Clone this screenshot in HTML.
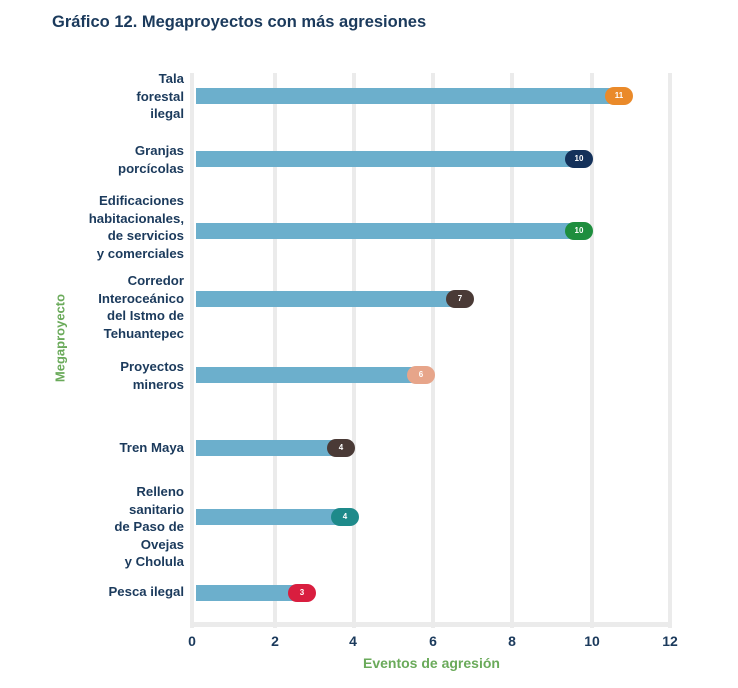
<!DOCTYPE html>
<html><head><meta charset="utf-8"><style>
body{margin:0;background:#fff;width:738px;height:688px;overflow:hidden;font-family:"Liberation Sans",sans-serif;}
.t{position:absolute;left:52px;top:13px;font-size:16.5px;font-weight:bold;color:#1b3a5c;}
.g{position:absolute;top:73px;width:4px;height:555px;background:#ebebeb;}
.bar{position:absolute;left:196px;height:16px;background:#6cafcc;}
.b{position:absolute;height:18px;width:28px;border-radius:9px;color:#fff;font-size:8px;font-weight:bold;text-align:center;line-height:18px;}
.l{position:absolute;right:554px;text-align:right;font-size:13.2px;font-weight:bold;color:#1b3a5c;line-height:17.5px;}
.x{position:absolute;top:633px;font-size:14px;font-weight:bold;color:#1b3a5c;width:30px;margin-left:-15px;text-align:center;}
</style></head><body>
<div class="t">Gráfico 12. Megaproyectos con más agresiones</div>
<div class="g" style="left:190px"></div><div class="g" style="left:273px"></div><div class="g" style="left:352px"></div><div class="g" style="left:431px"></div><div class="g" style="left:510px"></div><div class="g" style="left:590px"></div><div class="g" style="left:668px"></div>
<div style="position:absolute;left:190px;top:622px;width:482px;height:5px;background:#ebebeb"></div>

<div class="bar" style="top:88px;width:420px"></div><div class="b" style="top:87px;left:605px;background:#ea8a2a">11</div>
<div class="bar" style="top:151px;width:380px"></div><div class="b" style="top:150px;left:565px;background:#14315a">10</div>
<div class="bar" style="top:223px;width:380px"></div><div class="b" style="top:222px;left:565px;background:#1e8e3e">10</div>
<div class="bar" style="top:291px;width:261px"></div><div class="b" style="top:290px;left:446px;background:#4a3a36">7</div>
<div class="bar" style="top:367px;width:221px"></div><div class="b" style="top:366px;left:407px;background:#e7a58a">6</div>
<div class="bar" style="top:440px;width:142px"></div><div class="b" style="top:439px;left:327px;background:#4a3a36">4</div>
<div class="bar" style="top:509px;width:146px"></div><div class="b" style="top:508px;left:331px;background:#1e8a8a">4</div>
<div class="bar" style="top:585px;width:104px"></div><div class="b" style="top:584px;left:288px;background:#d91e3f">3</div>

<div class="l" style="top:70px">Tala<br>forestal<br>ilegal</div>
<div class="l" style="top:142px">Granjas<br>porcícolas</div>
<div class="l" style="top:192px">Edificaciones<br>habitacionales,<br>de servicios<br>y comerciales</div>
<div class="l" style="top:272px">Corredor<br>Interoceánico<br>del Istmo de<br>Tehuantepec</div>
<div class="l" style="top:358px">Proyectos<br>mineros</div>
<div class="l" style="top:439px">Tren Maya</div>
<div class="l" style="top:483px">Relleno<br>sanitario<br>de Paso de<br>Ovejas<br>y Cholula</div>
<div class="l" style="top:583px">Pesca ilegal</div>

<div class="x" style="left:192px">0</div><div class="x" style="left:275px">2</div><div class="x" style="left:353px">4</div><div class="x" style="left:433px">6</div><div class="x" style="left:512px">8</div><div class="x" style="left:592px">10</div><div class="x" style="left:670px">12</div>
<div style="position:absolute;top:655px;left:363px;font-size:14px;font-weight:bold;color:#6aaa5a">Eventos de agresión</div>
<div style="position:absolute;left:60px;top:338px;transform:translate(-50%,-50%) rotate(-90deg);font-size:13px;font-weight:bold;color:#6aaa5a;white-space:nowrap">Megaproyecto</div>
</body></html>
